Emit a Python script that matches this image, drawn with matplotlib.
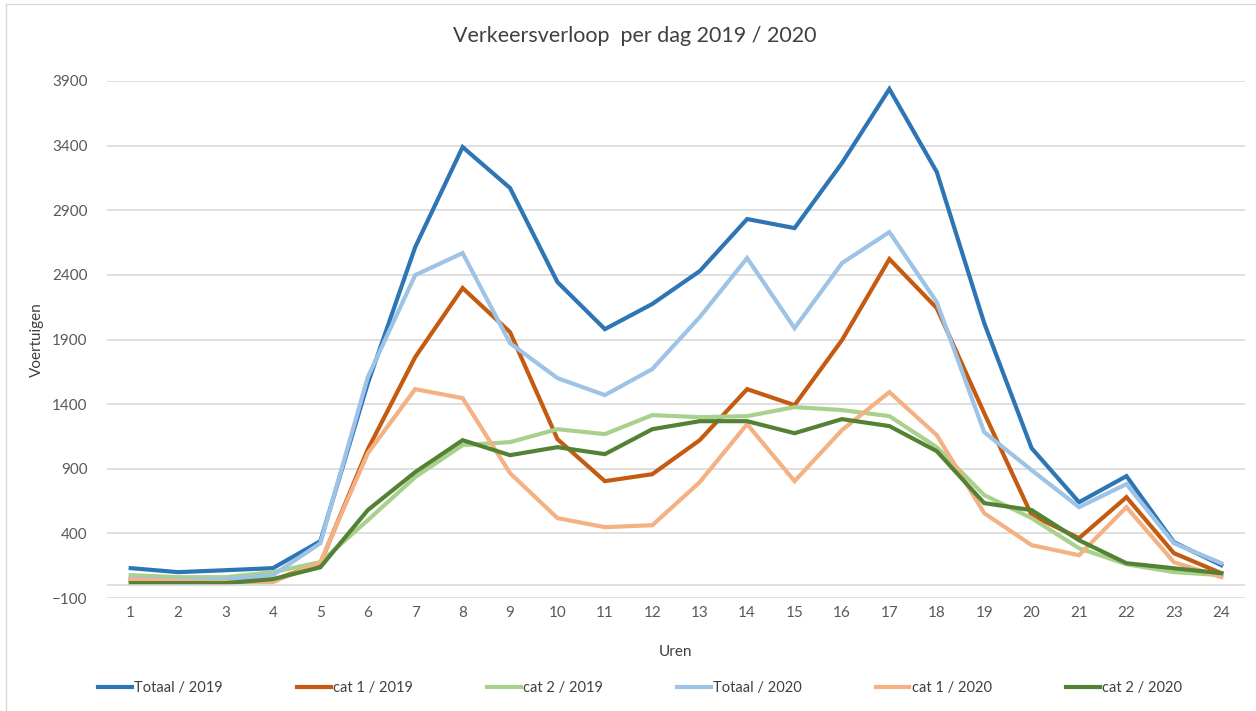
import matplotlib
matplotlib.use("Agg")
import matplotlib.pyplot as plt
from matplotlib.lines import Line2D

plt.rcParams['font.family'] = ['Lato', 'DejaVu Sans']

uren = list(range(1, 25))

totaal_2019 = [131, 100, 115, 131, 340, 1560, 2615, 3389, 3072, 2344, 1980, 2175,
               2429, 2832, 2762, 3265, 3838, 3196, 2027, 1059, 641, 843, 332, 154]
cat1_2019 = [38, 46, 23, 38, 169, 1050, 1764, 2298, 1957, 1129, 804, 858,
             1121, 1516, 1392, 1895, 2522, 2143, 1330, 541, 363, 680, 247, 92]
cat2_2019 = [77, 61, 61, 100, 177, 502, 835, 1083, 1106, 1206, 1168, 1315,
             1299, 1307, 1377, 1354, 1307, 1067, 696, 518, 285, 161, 100, 77]
totaal_2020 = [54, 38, 46, 77, 324, 1609, 2398, 2569, 1872, 1601, 1470, 1671,
               2073, 2530, 1988, 2491, 2731, 2189, 1183, 889, 603, 781, 324, 169]
cat1_2020 = [46, 30, 23, 23, 177, 1020, 1516, 1446, 866, 518, 448, 463,
             796, 1245, 804, 1199, 1493, 1160, 556, 309, 231, 603, 177, 61]
cat2_2020 = [15, 15, 15, 46, 138, 580, 874, 1121, 1005, 1067, 1013, 1206,
             1268, 1268, 1175, 1284, 1230, 1036, 634, 580, 347, 169, 130, 92]

series = [
    ("Totaal / 2019", totaal_2019, "#2e75b6"),
    ("cat 1 / 2019", cat1_2019, "#c55a11"),
    ("cat 2 / 2019", cat2_2019, "#a9d18e"),
    ("Totaal / 2020", totaal_2020, "#9dc3e6"),
    ("cat 1 / 2020", cat1_2020, "#f4b183"),
    ("cat 2 / 2020", cat2_2020, "#548235"),
]

yticks = list(range(-100, 4000, 500))

fig = plt.figure(figsize=(12.56, 7.11), dpi=100)
ax = fig.add_axes([107/1256, 1 - 598/711, (1245 - 107)/1256, (598 - 81)/711])

for label, vals, col in series:
    ax.plot(uren, vals, color=col, lw=3.0, label=label, solid_joinstyle='miter')

ax.set_xlim(0.5, 24.5)
ax.set_ylim(-100, 3900)
ax.set_yticks(yticks)
ax.set_xticks(uren)
ax.yaxis.grid(True, color='#d9d9d9', lw=1.2)
ax.axhline(0, color='#d9d9d9', lw=1.2)
ax.set_axisbelow(True)
for s in ax.spines.values():
    s.set_visible(False)
ax.tick_params(axis='both', length=0, labelsize=11, colors='#595959')
ax.tick_params(axis='y', pad=14)
ax.tick_params(axis='x', pad=6)

fig.text(635/1256, 1 - 36/711, "Verkeersverloop  per dag 2019 / 2020", ha='center', va='center',
         fontsize=15.5, color='#404040')
fig.text(37/1256, 1 - 340/711, "Voertuigen", rotation=90, ha='center', va='center',
         fontsize=11, color='#404040')
fig.text(675/1256, 1 - 652/711, "Uren", ha='center', va='center', fontsize=11, color='#404040')

handles = [Line2D([], [], color=c, lw=3.0) for _, _, c in series]
labels = [l for l, _, _ in series]
fig.legend(handles, labels, loc='center', bbox_to_anchor=(640/1256, 1 - 688/711), ncol=6,
           frameon=False, fontsize=10.5, handlelength=2.3, handletextpad=0.15,
           columnspacing=5.1, labelcolor='#404040')

# chart border
fig.add_artist(Line2D([6/1256, 6/1256], [0, 1 - 4/711], color='#d9d9d9', lw=1,
                      transform=fig.transFigure))
fig.add_artist(Line2D([6/1256, 1], [1 - 4/711, 1 - 4/711], color='#d9d9d9', lw=1,
                      transform=fig.transFigure))

fig.savefig("out.png", dpi=100)
